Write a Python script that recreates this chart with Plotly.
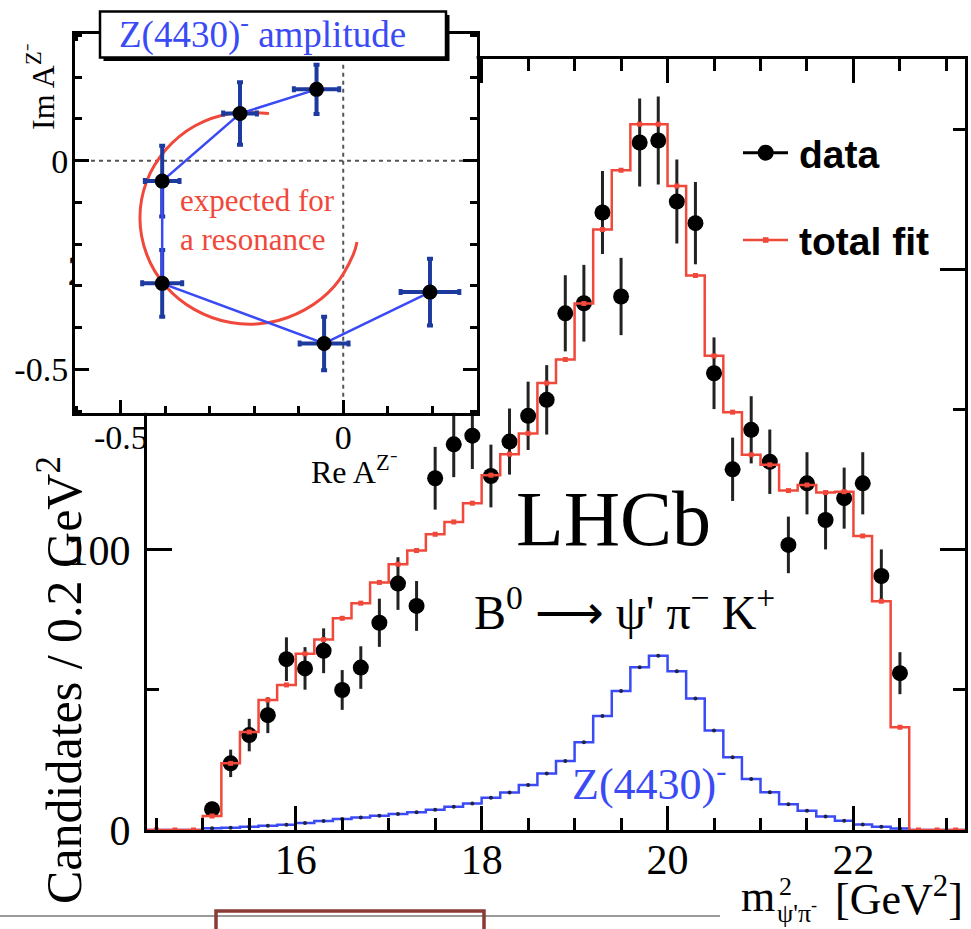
import numpy as np
import plotly.graph_objects as go

W, H = 971, 929

def PX(x):
    return x / W

def PY(y):
    return 1 - y / H

# ---------------- main histogram data ----------------
bin_lo = 14.4
bin_w = 0.2

data_x = [15.1, 15.3, 15.5, 15.7, 15.9, 16.1, 16.3, 16.5, 16.7, 16.9,
          17.1, 17.3, 17.5, 17.7, 17.9, 18.1, 18.3, 18.5, 18.7, 18.9,
          19.1, 19.3, 19.5, 19.7, 19.9, 20.1, 20.3, 20.5, 20.7, 20.9,
          21.1, 21.3, 21.5, 21.7, 21.9, 22.1, 22.3, 22.5]
data_y = [7.4, 23.8, 33.9, 41.0, 61.0, 57.7, 64.0, 50.0, 58.0, 74.0,
          88.0, 80.0, 125.6, 137.7, 140.8, 126.4, 138.7, 147.9, 153.6, 184.5,
          188.1, 220.5, 190.5, 245.5, 246.2, 224.4, 216.7, 163.1, 128.8, 142.9,
          131.5, 101.8, 123.8, 110.7, 118.5, 123.8, 90.7, 56.0]
data_err = [2.7, 4.9, 5.8, 6.4, 7.8, 7.6, 8.0, 7.1, 7.6, 8.6,
            9.4, 8.9, 11.2, 11.7, 11.9, 11.2, 11.8, 12.2, 12.4, 13.6,
            13.7, 14.8, 13.8, 15.7, 15.7, 15.0, 14.7, 12.8, 11.3, 12.0,
            11.5, 10.1, 11.1, 10.5, 10.9, 11.1, 9.5, 7.5]

fit_vals = [0, 0, 0,
            5.0, 23.8, 35.0, 46.4, 51.8, 62.9, 68.0, 75.6, 81.0, 88.4,
            94.9, 99.8, 105.6, 110.0, 116.7, 126.7, 134.2, 141.6, 159.6, 168.0,
            188.0, 214.4, 235.6, 252.0, 252.0, 230.0, 198.0, 169.3, 149.2, 134.0,
            130.4, 121.2, 123.2, 120.5, 120.8, 105.0, 81.7, 36.7,
            0, 0, 0]
z_vals = [0, 0, 0,
          0.6, 0.8, 1.2, 1.5, 1.9, 2.5, 3.2, 3.9, 4.5, 5.1,
          5.7, 6.3, 7.2, 8.3, 9.5, 11.5, 13.4, 16.1, 20.2, 24.6,
          31.3, 40.7, 49.6, 58.1, 62.2, 56.7, 47.0, 35.5, 26.0, 18.2,
          13.5, 9.2, 6.9, 4.8, 3.3, 2.0, 1.2, 0.5,
          0, 0, 0]

x_tick_vals = [16, 18, 20, 22]
x_tick_text = ["16", "18", "20", "22"]
y_tick_vals = [0, 100, 200]
y_tick_text = ["0", "100", "200"]

# ---------------- inset (Argand diagram) data ----------------
re_amp = [-0.060, -0.232, -0.407, -0.407, -0.043, 0.195]
im_amp = [0.171, 0.113, -0.049, -0.294, -0.438, -0.315]
re_err = [0.051, 0.038, 0.039, 0.045, 0.055, 0.066]
im_err = [0.059, 0.075, 0.085, 0.080, 0.064, 0.080]

arc_re = [-0.167, -0.253, -0.334, -0.399, -0.442, -0.457, -0.442, -0.399,
          -0.334, -0.253, -0.167, -0.086, -0.020, 0.023, 0.031]
arc_im = [0.113, 0.113, 0.083, 0.026, -0.050, -0.137, -0.224, -0.301,
          -0.357, -0.388, -0.388, -0.357, -0.301, -0.224, -0.195]

inset_tick_vals = [-0.5, 0]
inset_tick_text = ["-0.5", "0"]

# ---------------- derived binning ----------------
n_bins = len(fit_vals)
edges = bin_lo + bin_w * np.arange(n_bins + 1)
centers = edges[:-1] + bin_w / 2
main_xr = [edges[0], edges[-1]]
main_yr = [0, 275.2]
ins_xr = [-0.603, 0.2996]
ins_yr = [-0.604, 0.3036]

RED = "#f0483a"
BLUE = "#3a4af5"
NAVY = "#1d3a9e"
SERIF = "Liberation Serif"
SANS = "Liberation Sans"

fig = go.Figure()

# main: data points
fig.add_trace(go.Scatter(
    x=data_x, y=data_y, mode="markers",
    marker=dict(symbol="circle", size=16, color="black"),
    error_y=dict(type="data", array=data_err, color="#222222", thickness=3, width=0),
    xaxis="x", yaxis="y", showlegend=False, hoverinfo="skip"))

# main: Z(4430) component
fig.add_trace(go.Scatter(
    x=edges, y=z_vals + [z_vals[-1]], mode="lines", line_shape="hv",
    line=dict(color=BLUE, width=2.5), xaxis="x", yaxis="y",
    showlegend=False, hoverinfo="skip"))
fig.add_trace(go.Scatter(
    x=centers, y=z_vals, mode="markers",
    marker=dict(symbol="circle", size=4, color="#222244"),
    xaxis="x", yaxis="y", showlegend=False, hoverinfo="skip"))

# main: total fit
fig.add_trace(go.Scatter(
    x=edges, y=fit_vals + [fit_vals[-1]], mode="lines", line_shape="hv",
    line=dict(color=RED, width=2.5), xaxis="x", yaxis="y",
    showlegend=False, hoverinfo="skip"))
fig.add_trace(go.Scatter(
    x=centers, y=fit_vals, mode="markers",
    marker=dict(symbol="square", size=5, color=RED),
    xaxis="x", yaxis="y", showlegend=False, hoverinfo="skip"))

# inset: white background covering the main plot
fig.add_trace(go.Scatter(
    x=[ins_xr[0], ins_xr[1], ins_xr[1], ins_xr[0], ins_xr[0]],
    y=[ins_yr[0], ins_yr[0], ins_yr[1], ins_yr[1], ins_yr[0]],
    mode="lines", fill="toself", fillcolor="white", line=dict(width=0, color="white"),
    xaxis="x2", yaxis="y2", showlegend=False, hoverinfo="skip"))
# inset dashed axes
fig.add_trace(go.Scatter(
    x=[ins_xr[0], ins_xr[1]], y=[0, 0], mode="lines",
    line=dict(color="#555555", width=2, dash="4px,4px"),
    xaxis="x2", yaxis="y2", showlegend=False, hoverinfo="skip"))
fig.add_trace(go.Scatter(
    x=[0, 0], y=[ins_yr[0], ins_yr[1]], mode="lines",
    line=dict(color="#555555", width=2, dash="4px,4px"),
    xaxis="x2", yaxis="y2", showlegend=False, hoverinfo="skip"))
# inset: expected resonance arc
fig.add_trace(go.Scatter(
    x=arc_re, y=arc_im, mode="lines", line_shape="spline",
    line=dict(color=RED, width=3, smoothing=1.0), xaxis="x2", yaxis="y2",
    showlegend=False, hoverinfo="skip"))
# inset: measured amplitude
fig.add_trace(go.Scatter(
    x=re_amp, y=im_amp, mode="lines+markers",
    line=dict(color=BLUE, width=2.5),
    marker=dict(symbol="circle", size=15, color="black"),
    error_x=dict(type="data", array=re_err, color=NAVY, thickness=4, width=3),
    error_y=dict(type="data", array=im_err, color=NAVY, thickness=4, width=3),
    xaxis="x2", yaxis="y2", showlegend=False, hoverinfo="skip"))

axis_common = dict(showline=True, linewidth=3, linecolor="black", mirror="ticks",
                   ticks="inside", tickcolor="black", tickwidth=3,
                   showgrid=False, zeroline=False, automargin=False)

fig.update_layout(
    width=W, height=H, autosize=False,
    margin=dict(l=0, r=0, t=0, b=0, pad=0),
    paper_bgcolor="white", plot_bgcolor="white",
    xaxis=dict(domain=[PX(147), PX(965)], range=main_xr, anchor="y",
               tickmode="array", tickvals=x_tick_vals, ticktext=x_tick_text, ticklen=24,
               minor=dict(tickmode="linear", tick0=0, dtick=0.5, ticklen=12,
                          ticks="inside", tickcolor="black", tickwidth=3),
               tickfont=dict(family=SERIF, size=42, color="black"),
               ticklabelstandoff=-9, **axis_common),
    yaxis=dict(domain=[PY(830), PY(59.3)], range=main_yr, anchor="x",
               tickmode="array", tickvals=y_tick_vals, ticktext=y_tick_text, ticklen=25,
               minor=dict(tickmode="linear", tick0=0, dtick=50, ticklen=12,
                          ticks="inside", tickcolor="black", tickwidth=3),
               tickfont=dict(family=SERIF, size=42, color="black"),
               ticklabelstandoff=5, **axis_common),
    xaxis2=dict(domain=[PX(75), PX(476.5)], range=ins_xr, anchor="y2",
                tickmode="array", tickvals=inset_tick_vals, ticktext=inset_tick_text,
                ticklen=13,
                minor=dict(tickmode="linear", tick0=0, dtick=0.1, ticklen=7,
                           ticks="inside", tickcolor="black", tickwidth=3),
                tickfont=dict(family=SERIF, size=34, color="black"),
                ticklabelstandoff=-8, **axis_common),
    yaxis2=dict(domain=[PY(412.7), PY(34)], range=ins_yr, anchor="x2",
                tickmode="array", tickvals=inset_tick_vals, ticktext=inset_tick_text,
                ticklen=14,
                minor=dict(tickmode="linear", tick0=0, dtick=0.1, ticklen=7,
                           ticks="inside", tickcolor="black", tickwidth=3),
                tickfont=dict(family=SERIF, size=34, color="black"),
                ticklabelstandoff=-3, **axis_common),
)

shapes = []
# inset title box with shadow
shapes.append(dict(type="rect", xref="paper", yref="paper",
                   x0=PX(103.5), x1=PX(449.5), y0=PY(61), y1=PY(15),
                   fillcolor="black", line=dict(width=0), layer="above"))
shapes.append(dict(type="rect", xref="paper", yref="paper",
                   x0=PX(100), x1=PX(446), y0=PY(57.5), y1=PY(11.5),
                   fillcolor="white", line=dict(color="black", width=2.5), layer="above"))
# legend symbols
shapes.append(dict(type="line", xref="paper", yref="paper",
                   x0=PX(743), x1=PX(788), y0=PY(152.7), y1=PY(152.7),
                   line=dict(color="black", width=3), layer="above"))
shapes.append(dict(type="circle", xref="paper", yref="paper",
                   x0=PX(757.7), x1=PX(773.7), y0=PY(160.7), y1=PY(144.7),
                   fillcolor="black", line=dict(width=0), layer="above"))
shapes.append(dict(type="line", xref="paper", yref="paper",
                   x0=PX(743), x1=PX(788), y0=PY(240), y1=PY(240),
                   line=dict(color=RED, width=2.5), layer="above"))
shapes.append(dict(type="rect", xref="paper", yref="paper",
                   x0=PX(763), x1=PX(768.5), y0=PY(242.8), y1=PY(237.2),
                   fillcolor=RED, line=dict(width=0), layer="above"))
# slide decoration below the plot
shapes.append(dict(type="line", xref="paper", yref="paper",
                   x0=PX(0), x1=PX(720), y0=PY(916), y1=PY(916),
                   line=dict(color="#9a9a9a", width=2), layer="above"))
shapes.append(dict(type="path", xref="paper", yref="paper",
                   path=f"M {PX(216)},{PY(935)} L {PX(216)},{PY(911)} L {PX(484)},{PY(911)} L {PX(484)},{PY(935)}",
                   line=dict(color="#8a3b36", width=3.5), layer="above"))
fig.update_layout(shapes=shapes)

def ann(text, x, y, size, color="black", family=SERIF, xanchor="center",
        yanchor="middle", angle=0):
    fig.add_annotation(text=text, xref="paper", yref="paper", x=PX(x), y=PY(y),
                       xanchor=xanchor, yanchor=yanchor, showarrow=False,
                       textangle=angle,
                       font=dict(family=family, size=size, color=color))

ann("Z(4430)<sup>-</sup> amplitude", 117, 32, 37, color=BLUE, xanchor="left")
ann("expected for", 178, 200.5, 31, color=RED, xanchor="left")
ann("a resonance", 178, 239.5, 31, color=RED, xanchor="left")
ann("Im A<sup>Z⁻</sup>", 41, 87, 32, angle=-90)
ann("Re A<sup>Z⁻</sup>", 354, 470, 32)
ann("LHCb", 613.5, 518.7, 78)
ann("B<sup>0</sup> ⟶ ψ' π<sup>−</sup> K<sup>+</sup>", 471.7, 609, 48, xanchor="left")
ann("Z(4430)<sup>-</sup>", 570, 781, 44, color=BLUE, xanchor="left")
ann("<b>data</b>", 796.7, 154.8, 39, family=SANS, xanchor="left")
ann("<b>total fit</b>", 796.7, 241.5, 39, family=SANS, xanchor="left")
ann("Candidates / 0.2 GeV<sup>2</sup>", 60, 680, 50, angle=-90)
ann("m", 739, 896.5, 44, xanchor="left")
ann("2", 777, 886, 26, xanchor="left")
ann("ψ'π<sup>-</sup>", 775, 911, 26, xanchor="left")
ann("[GeV<sup>2</sup>]", 965, 896, 44, xanchor="right")

fig.write_html(
    "out.html",
    config={"displayModeBar": False},
    post_script=("document.documentElement.style.margin='0';"
                 "document.body.style.margin='0';"
                 "document.body.style.overflow='hidden';"
                 "document.documentElement.style.overflow='hidden';"),
)
